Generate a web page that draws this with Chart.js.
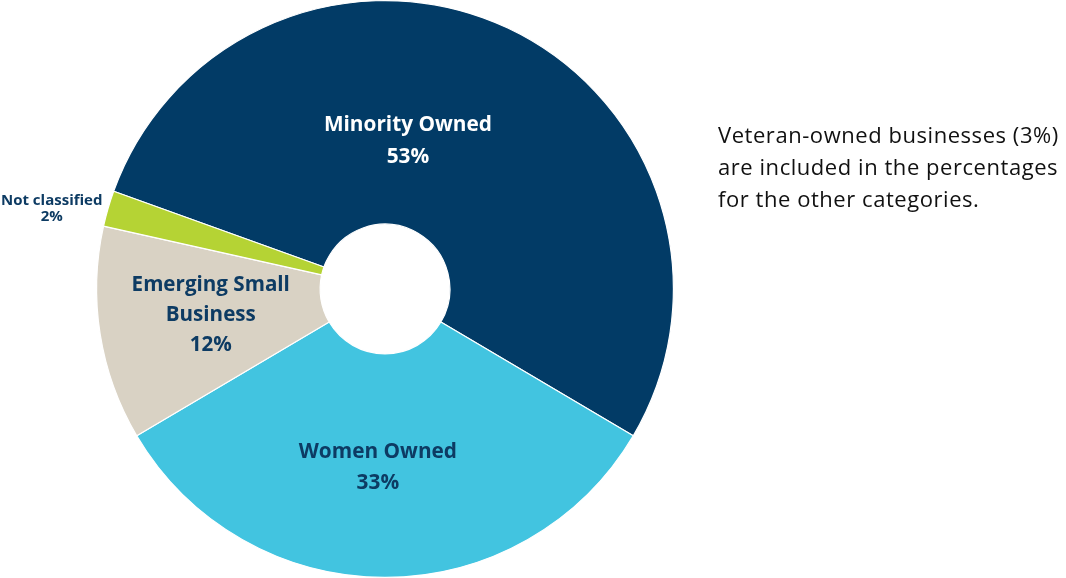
<!DOCTYPE html>
<html>
<head>
<meta charset="utf-8">
<script src="https://cdn.jsdelivr.net/npm/chart.js@4"></script>
<style>
  html, body { margin: 0; padding: 0; background: #fff; }
  #wrap { position: relative; width: 1066px; height: 578px; }
  #box { position: absolute; left: 0; top: 0; width: 770px; height: 578px; }
  #note {
    position: absolute; left: 718px; top: 118px;
    font-family: "Open Sans", Lato, sans-serif; font-size: 22px; line-height: 32px;
    letter-spacing: 0.55px; color: #111; white-space: nowrap;
  }
</style>
</head>
<body>
<div id="wrap">
  <div id="box"><canvas id="pie"></canvas></div>
  <div id="note">Veteran-owned businesses (3%)<br>are included in the percentages<br>for the other categories.</div>
</div>
<script>
const categories = ["Minority Owned", "Women Owned", "Emerging Small Business", "Not classified"];
const shares = [53, 33, 12, 2];
const colors = ["#023b66", "#42c4e0", "#d9d2c4", "#b5d334"];
// label text lines as they appear on the slices
const labelLines = [
  ["Minority Owned", "53%"],
  ["Women Owned", "33%"],
  ["Emerging Small", "Business", "12%"],
  ["Not classified", "2%"]
];

// where each label sits: angle (deg clockwise from top) and radius as share of outer radius
const labelSpots = [
  { a: 8.7, r: 0.525, size: 20.8, lh: 32, color: "#ffffff" },
  { a: 182.3, r: 0.615, size: 20.8, lh: 31, color: "#0d3b63" },
  { a: 262.1, r: 0.61, size: 20.6, lh: 30, color: "#0d3b63" },
  { a: 283.8, r: 1.19, size: 15, lh: 16, color: "#0d3b63" }
];

const sliceLabels = {
  id: "sliceLabels",
  afterDatasetsDraw(chart) {
    const arc = chart.getDatasetMeta(0).data[0];
    const cx = arc.x, cy = arc.y, R = arc.outerRadius;
    const ctx = chart.ctx;
    ctx.save();
    ctx.textAlign = "center";
    ctx.textBaseline = "middle";
    labelLines.forEach((lines, i) => {
      const s = labelSpots[i];
      const t = (s.a - 90) * Math.PI / 180;
      const x = cx + Math.cos(t) * R * s.r;
      const y = cy + Math.sin(t) * R * s.r + 1.5;
      ctx.font = `bold ${s.size}px "Open Sans", Lato, sans-serif`;
      ctx.fillStyle = s.color;
      const y0 = y - (lines.length - 1) * s.lh / 2;
      lines.forEach((ln, k) => ctx.fillText(ln, x, y0 + k * s.lh));
    });
    ctx.restore();
  }
};

new Chart(document.getElementById("pie"), {
  type: "doughnut",
  data: {
    labels: categories,
    datasets: [{
      data: shares,
      backgroundColor: colors,
      borderColor: "#ffffff",
      borderWidth: 1.2
    }]
  },
  options: {
    responsive: true,
    maintainAspectRatio: false,
    animation: false,
    cutout: "22.5%",
    rotation: 289.8,
    layout: { padding: 0 },
    plugins: { legend: { display: false }, tooltip: { enabled: false } }
  },
  plugins: [sliceLabels]
});
</script>
</body>
</html>
